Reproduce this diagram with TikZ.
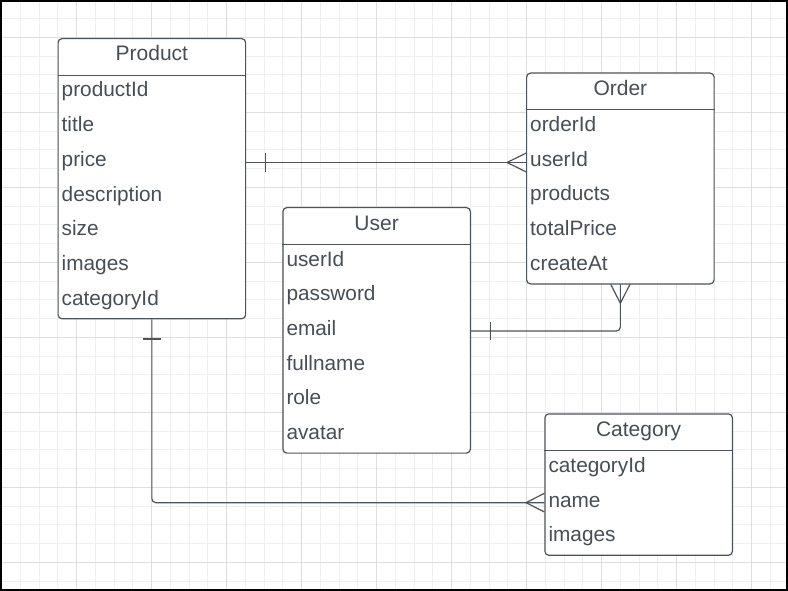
\documentclass[tikz,border=0pt]{standalone}
\usepackage{fontspec}
\setmainfont{Liberation Sans}
\definecolor{linec}{HTML}{4D535A}
\definecolor{txtc}{HTML}{474E57}
\definecolor{gridminor}{HTML}{EFEFEF}
\definecolor{gridmajor}{HTML}{DEDEDE}
\begin{document}
\begin{tikzpicture}[x=1pt,y=-1pt,
  entity/.style={draw=linec, line width=1.2pt, fill=white, rounded corners=4pt, inner sep=0pt, anchor=north west, minimum width=187.5pt},
  ln/.style={draw=linec, line width=1.2pt},
  ttl/.style={anchor=base, inner sep=0pt, text=txtc, font=\fontsize{21}{24}\selectfont},
  fld/.style={anchor=base west, inner sep=0pt, text=txtc, font=\fontsize{20.8}{24}\selectfont},
  gminor/.style={draw=gridminor, line width=1pt},
  gmajor/.style={draw=gridmajor, line width=1pt}]
\useasboundingbox (0,0) rectangle (788,591);
\fill[white] (0,0) rectangle (788,591);
% grid
\foreach \k in {0,...,42} {\draw[gminor] (1.7+18.75*\k,0) -- (1.7+18.75*\k,591);}
\foreach \k in {0,...,31} {\draw[gminor] (0,-0.2+18.75*\k) -- (788,-0.2+18.75*\k);}
\foreach \k in {0,...,10} {\draw[gmajor] (1.7+75*\k,0) -- (1.7+75*\k,591);}
\foreach \k in {0,...,7} {\draw[gmajor] (0,37.3+75*\k) -- (788,37.3+75*\k);}
\draw[black, line width=1.6pt] (0.8,0.8) rectangle (787.2,590.2);
% entities
\newcommand\erentity[6]{% name, left, top, rows, title, fields
  \node[entity, minimum height={(37.3+#4*34.7)*1pt}] (#1) at (#2,#3) {};
  \node[ttl] (#1-t) at ([yshift=-23pt]#1.north) {#5};
  \draw[ln] ([yshift=-37.3pt]#1.north west) -- ([yshift=-37.3pt]#1.north east);
  \foreach \f [count=\i] in {#6} {
    \node[fld] (#1-\i) at ([xshift=4pt,yshift={-(59+(\i-1)*34.7)*1pt}]#1.north west) {\f};
    \coordinate (#1-\i-c) at ([yshift={-(37.3+17.35+(\i-1)*34.7)*1pt}]#1.north west);
  }
}
\erentity{product}{57.5}{38}{7}{Product}{productId,title,price,description,size,images,categoryId}
\erentity{order}{526}{72.5}{5}{Order}{orderId,userId,products,totalPrice,createAt}
\erentity{user}{282.3}{207}{6}{User}{userId,password,email,fullname,role,avatar}
\erentity{category}{544.3}{413.3}{3}{Category}{categoryId,name,images}
% Product -- Order
\coordinate (po) at ([yshift=-0.45pt]product-3-c);
\draw[ln] (po -| product.east) -- (po -| order.west);
\draw[ln] ([xshift=19pt]po -| product.east) ++(0,-9.5) -- ++(0,19);
\draw[ln] ([yshift=9.3pt]po -| order.west) -- ([xshift=-19pt]po -| order.west) -- ([yshift=-9.3pt]po -| order.west);
% User -- Order
\draw[ln, rounded corners=4pt] (user-3-c -| user.east) -| (order.south);
\draw[ln] ([xshift=19.5pt]user-3-c -| user.east) ++(0,-9.3) -- ++(0,18.6);
\draw[ln] ([xshift=-9.5pt]order.south) -- ([yshift=-18.8pt]order.south) -- ([xshift=9.5pt]order.south);
% Product -- Category
\draw[ln, rounded corners=4pt] (product.south) |- (category-2-c);
\draw[ln] ([yshift=-19.6pt]product.south) ++(-9.2,0) -- ++(18.4,0);
\draw[ln] ([yshift=9.3pt]category-2-c) -- ([xshift=-18.3pt]category-2-c) -- ([yshift=-9.3pt]category-2-c);
\end{tikzpicture}
\end{document}
